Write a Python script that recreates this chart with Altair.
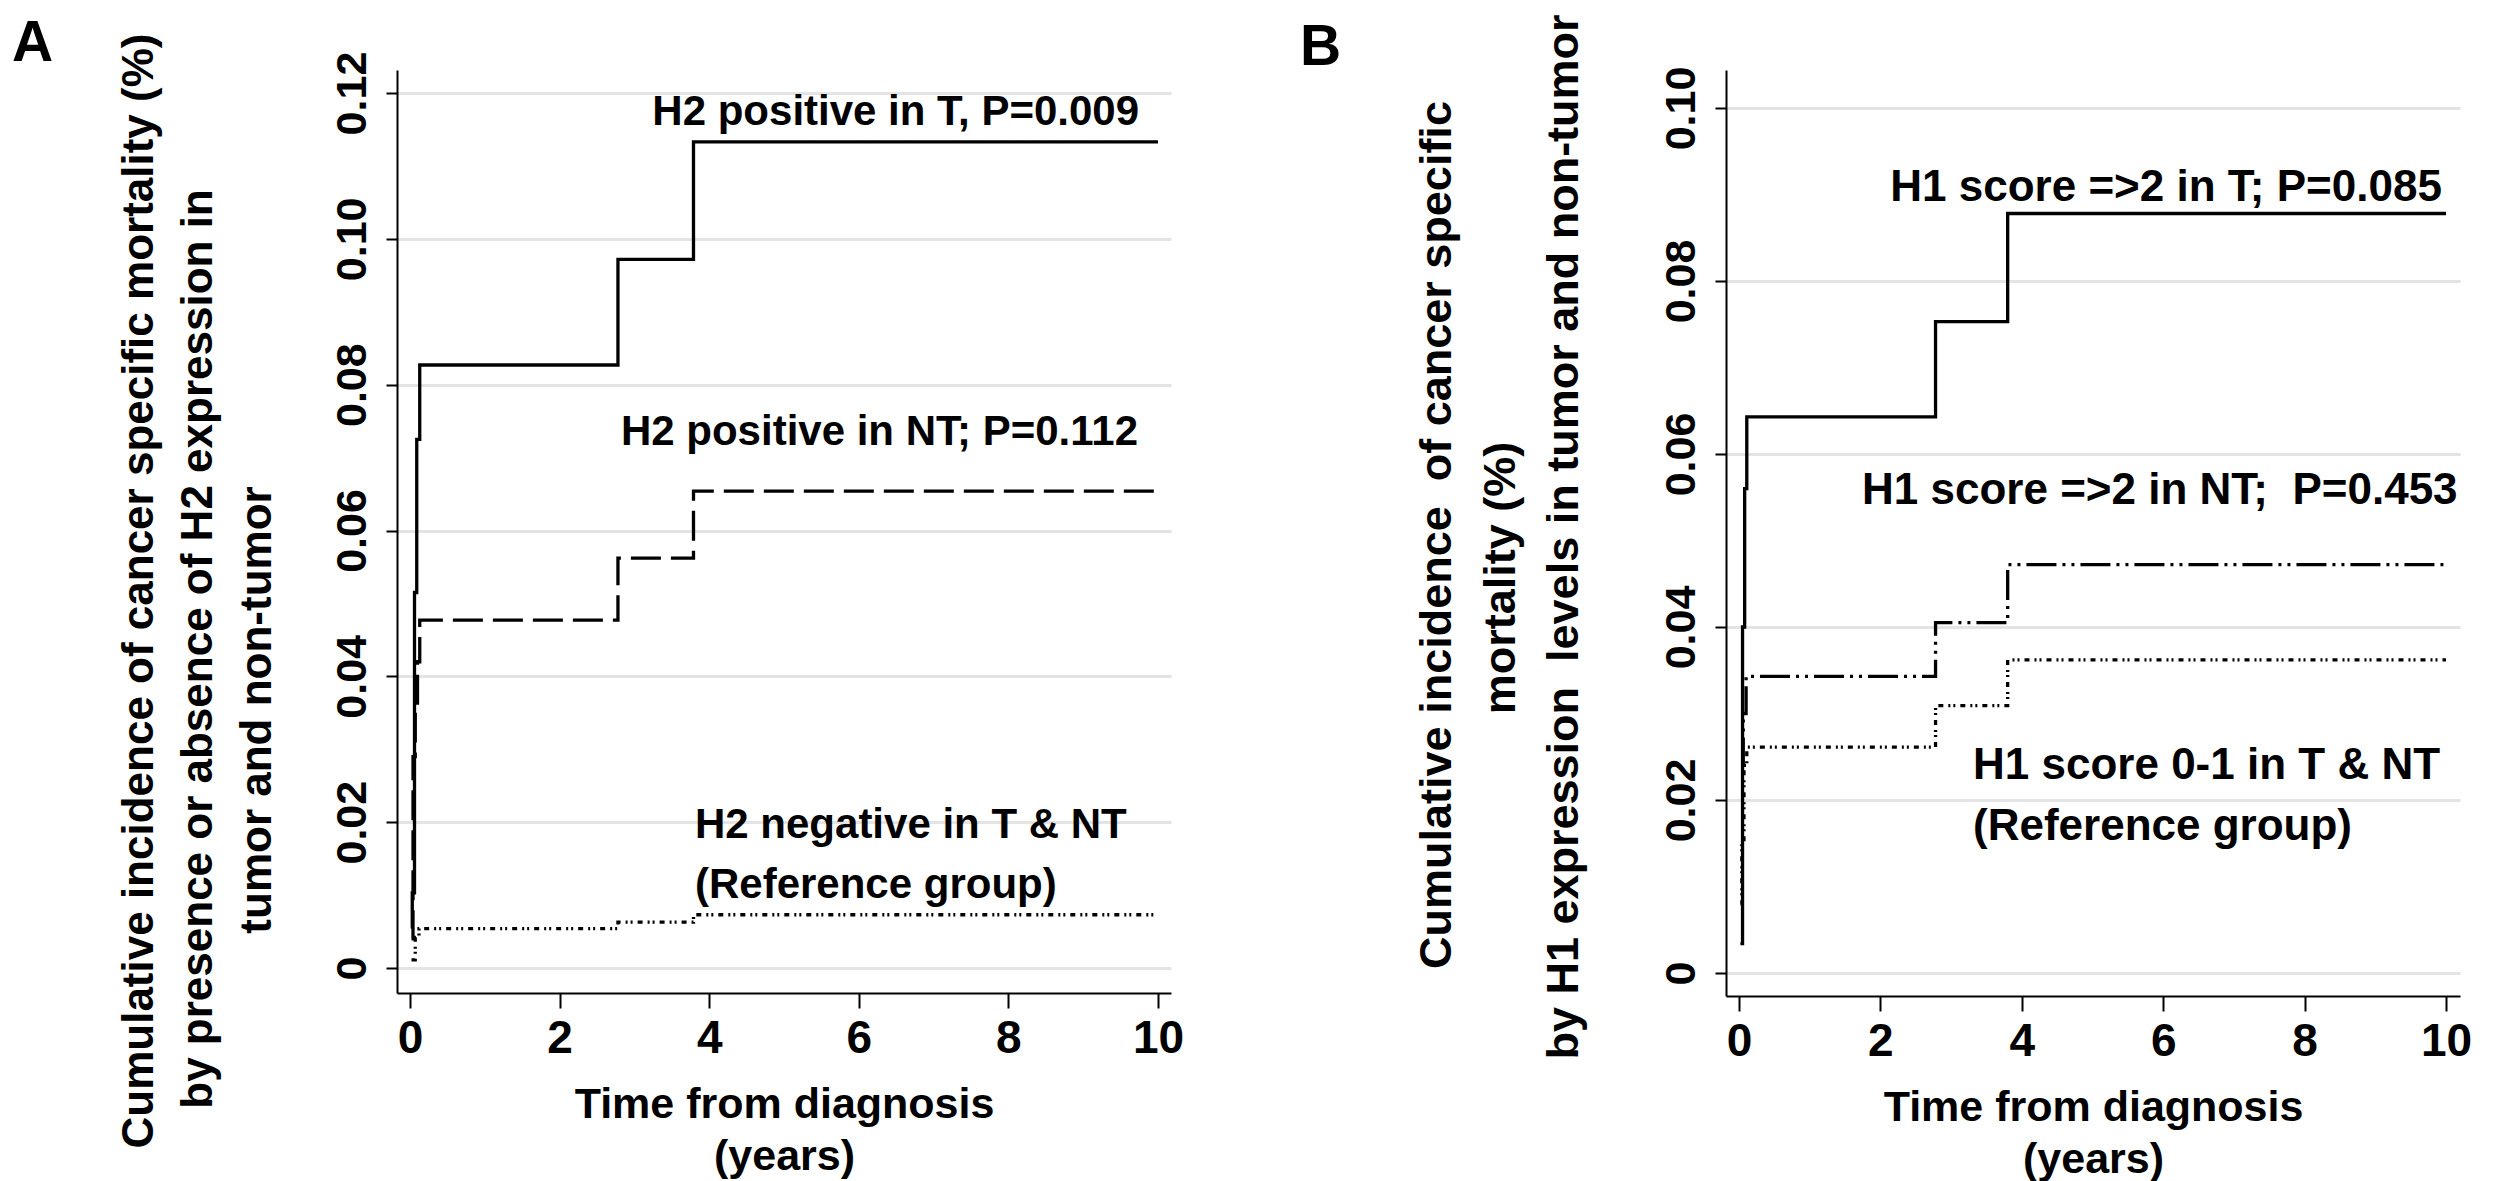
import altair as alt
import pandas as pd

FONT = "Liberation Sans, Arial, Helvetica, sans-serif"
NARROW = "Liberation Sans Narrow, Arial Narrow, Liberation Sans, sans-serif"

# ---- panel A : H2 expression ----
a_t_time = [0.01, 0.03, 0.06, 0.09, 0.13, 2.78, 3.79, 10.0]
a_t_cif = [0.0056, 0.0103, 0.0515, 0.0725, 0.0827, 0.0972, 0.1133, 0.1133]

a_nt_time = [0.02, 0.04, 0.07, 0.10, 0.13, 2.78, 3.79, 10.0]
a_nt_cif = [0.0040, 0.0290, 0.0350, 0.0420, 0.0477, 0.0562, 0.0654, 0.0654]

a_ref_time = [0.02, 0.07, 0.12, 2.78, 3.79, 10.0]
a_ref_cif = [0.0011, 0.0042, 0.0054, 0.0063, 0.0073, 0.0073]

a_notes = ["H2 positive in T, P=0.009", "H2 positive in NT; P=0.112",
           "H2 negative in T & NT", "(Reference group)"]
a_note_x = [3.24, 2.82, 3.81, 3.81]
a_note_y = [0.1156, 0.0717, 0.0178, 0.0096]

a_ytitle = ["Cumulative incidence of cancer specific mortality (%)",
            "by presence or absence of H2 expression in",
            "tumor and non-tumor"]

# ---- panel B : H1 score ----
b_t_time = [0.02, 0.05, 0.08, 0.11, 2.78, 3.80, 10.0]
b_t_cif = [0.0034, 0.0400, 0.0560, 0.0643, 0.0753, 0.0878, 0.0878]

b_nt_time = [0.03, 0.06, 0.10, 2.78, 3.80, 10.0]
b_nt_cif = [0.0240, 0.0300, 0.0343, 0.0405, 0.0472, 0.0472]

b_ref_time = [0.02, 0.04, 0.07, 0.11, 2.78, 3.80, 10.0]
b_ref_cif = [0.0080, 0.0150, 0.0240, 0.0261, 0.0309, 0.0362, 0.0362]

b_notes = ["H1 score =>2 in T; P=0.085", "H1 score =>2 in NT;\u00a0 P=0.453",
           "H1 score 0-1 in T & NT", "(Reference group)"]
b_note_x = [2.14, 1.74, 3.31, 3.31]
b_note_y = [0.0892, 0.0542, 0.0224, 0.0154]

b_ytitle = ["Cumulative incidence\u00a0 of cancer specific",
            "mortality (%)",
            "by H1 expression\u00a0 levels in tumor and non-tumor"]

x_ticks = [0, 2, 4, 6, 8, 10]
a_y_ticks = [0, 0.02, 0.04, 0.06, 0.08, 0.10, 0.12]
b_y_ticks = [0, 0.02, 0.04, 0.06, 0.08, 0.10]


def curves(groups):
    rows = []
    for name, xs, ys in groups:
        for x, y in zip(xs, ys):
            rows.append({"group": name, "time": x, "cif": y})
    return pd.DataFrame(rows)


def make_panel(df, styles, notes, note_x, note_y, x_dom, y_dom, y_ticks,
               y_title, title_pos, letter, letter_pos,
               width, height, note_size, title_size):
    x_enc = alt.X(
        "time:Q",
        scale=alt.Scale(domain=x_dom, nice=False, zero=False),
        axis=alt.Axis(
            values=x_ticks, grid=False, title=["Time from diagnosis", "(years)"],
            labelFont=NARROW, labelFontSize=46, labelFontWeight="bold",
            labelColor="black", labelPadding=8, tickSize=15,
            titleFont=FONT, titleFontSize=43, titleFontWeight="bold",
            titleColor="black", titlePadding=22, titleLineHeight=52,
        ),
    )
    y_enc = alt.Y(
        "cif:Q",
        scale=alt.Scale(domain=y_dom, nice=False, zero=False),
        axis=alt.Axis(
            values=y_ticks, grid=True, title=None,
            labelExpr="datum.value == 0 ? '0' : format(datum.value, '.2f')",
            labelAngle=270, labelAlign="center", labelBaseline="bottom",
            labelFont=FONT, labelFontSize=43, labelFontWeight="bold",
            labelColor="black", labelPadding=12, tickSize=11,
        ),
    )

    layers = []
    for name, dash in styles:
        line = alt.Chart(df).transform_filter(
            alt.datum.group == name
        ).mark_line(
            interpolate="step-after", color="black", strokeWidth=3.3,
            strokeDash=dash,
        ).encode(x=x_enc, y=y_enc, order="time:Q")
        layers.append(line)

    note_df = pd.DataFrame({"time": note_x, "cif": note_y, "label": notes})
    text = alt.Chart(note_df).mark_text(
        align="left", baseline="alphabetic", font=FONT,
        fontSize=note_size, fontWeight="bold", color="black",
    ).encode(x=x_enc, y=y_enc, text="label:N")
    layers.append(text)

    # rotated y-axis title, one line per text mark
    for line_text, (tx, ty) in zip(y_title, title_pos):
        layers.append(
            alt.Chart(pd.DataFrame({"t": [line_text]})).mark_text(
                angle=270, align="center", baseline="middle", font=FONT,
                fontSize=title_size, fontWeight="bold", color="black",
            ).encode(x=alt.value(tx), y=alt.value(ty), text="t:N")
        )

    tag = alt.Chart(pd.DataFrame({"tag": [letter]})).mark_text(
        align="left", baseline="top", font=FONT, fontSize=57,
        fontWeight="bold", color="black",
    ).encode(x=alt.value(letter_pos[0]), y=alt.value(letter_pos[1]),
             text="tag:N")
    layers.append(tag)

    return alt.layer(*layers).properties(width=width, height=height)


a_df = curves([("T", a_t_time, a_t_cif), ("NT", a_nt_time, a_nt_cif),
               ("REF", a_ref_time, a_ref_cif)])
b_df = curves([("T", b_t_time, b_t_cif), ("NT", b_nt_time, b_nt_cif),
               ("REF", b_ref_time, b_ref_cif)])

panel_a = make_panel(
    a_df,
    [("T", [1, 0]), ("NT", [30, 10]), ("REF", [5, 5, 2, 3, 2, 5])],
    a_notes, a_note_x, a_note_y,
    [-0.174, 10.174], [-0.00343, 0.12316], a_y_ticks,
    a_ytitle, [(-257, 521), (-198, 579), (-139, 640)],
    "A", (-385, -54), 774, 923, 42, 44,
)

panel_b = make_panel(
    b_df,
    [("T", [1, 0]), ("NT", [30, 6, 3, 6, 3, 6]), ("REF", [5, 5, 2, 3, 2, 5])],
    b_notes, b_note_x, b_note_y,
    [-0.184, 10.198], [-0.00266, 0.10439], b_y_ticks,
    b_ytitle, [(-289, 465), (-225, 508), (-162, 467)],
    "B", (-426, -50), 734, 926, 44, 45,
)

chart = alt.hconcat(panel_a, panel_b, spacing=116).properties(
    padding={"left": 4, "top": 6, "right": 5, "bottom": 5},
    background="white",
).configure_view(
    stroke=None
).configure_axis(
    domainColor="black", domainWidth=2, tickColor="black", tickWidth=2,
    gridColor="#e4e4e4", gridWidth=3,
)

chart.save("out.html", embed_options={"renderer": "svg", "actions": False})
